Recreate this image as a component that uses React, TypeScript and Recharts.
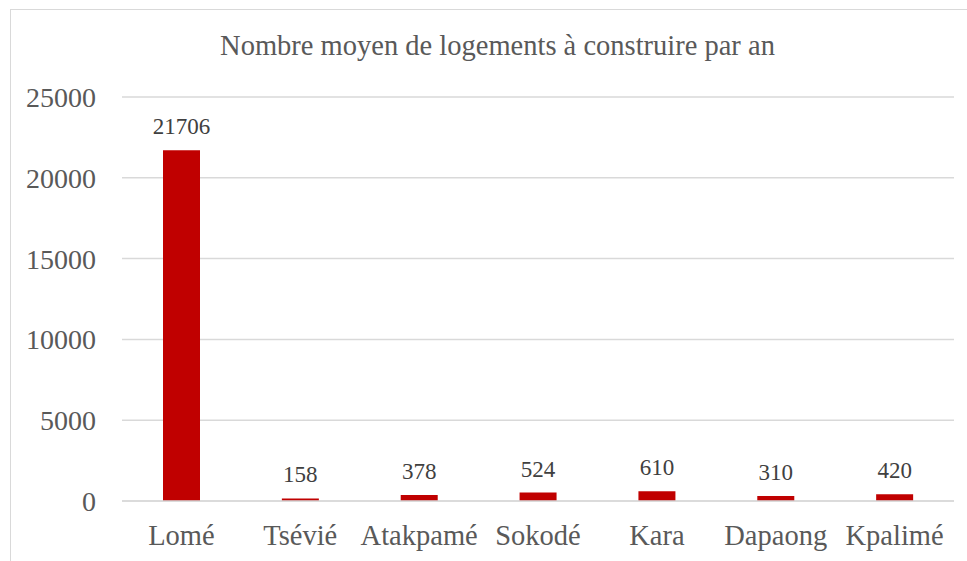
import React from 'react';
import { BarChart, Bar, XAxis, YAxis, CartesianGrid, LabelList } from 'recharts';

const categories = ['Lomé', 'Tsévié', 'Atakpamé', 'Sokodé', 'Kara', 'Dapaong', 'Kpalimé'];
const values = [21706, 158, 378, 524, 610, 310, 420];
const yTicks = [0, 5000, 10000, 15000, 20000, 25000];
const title = 'Nombre moyen de logements à construire par an';

const data = categories.map((name, i) => ({ name, value: values[i] }));

const FONT = '"Liberation Serif", "Times New Roman", serif';

export default function App() {
  return (
    <div style={{ position: 'absolute', left: 0, top: 0, width: 967, height: 561, overflow: 'hidden', background: '#fff' }}>
      <div style={{ position: 'absolute', left: 10, top: 9, width: 990, height: 620, border: '1px solid #d9d9d9', boxSizing: 'border-box' }} />
      <svg style={{ position: 'absolute', left: 0, top: 0 }} width={967} height={80}>
        <text x={497.5} y={55} textAnchor="middle" fontFamily={FONT} fontSize={28.5} fill="#595959">{title}</text>
      </svg>
      <div style={{ position: 'absolute', left: 11, top: 10 }}>
        <BarChart width={975} height={560} data={data} margin={{ top: 87, right: 32, bottom: 9, left: 0 }}>
          <CartesianGrid vertical={false} stroke="#d9d9d9" strokeWidth={1.5} />
          <YAxis
            width={111}
            domain={[0, 25000]}
            ticks={yTicks}
            axisLine={false}
            tickLine={false}
            tickMargin={20}
            tick={{ fontSize: 28, fill: '#595959', fontFamily: FONT }}
          />
          <XAxis
            dataKey="name"
            height={60}
            axisLine={{ stroke: '#d9d9d9', strokeWidth: 1.5 }}
            tickLine={false}
            tickMargin={18}
            interval={0}
            tick={{ fontSize: 28.5, fill: '#595959', fontFamily: FONT }}
          />
          <Bar dataKey="value" fill="#c00000" barSize={37} isAnimationActive={false}>
            <LabelList dataKey="value" position="top" offset={16} fill="#404040" fontSize={23} fontFamily={FONT} />
          </Bar>
        </BarChart>
      </div>
    </div>
  );
}
